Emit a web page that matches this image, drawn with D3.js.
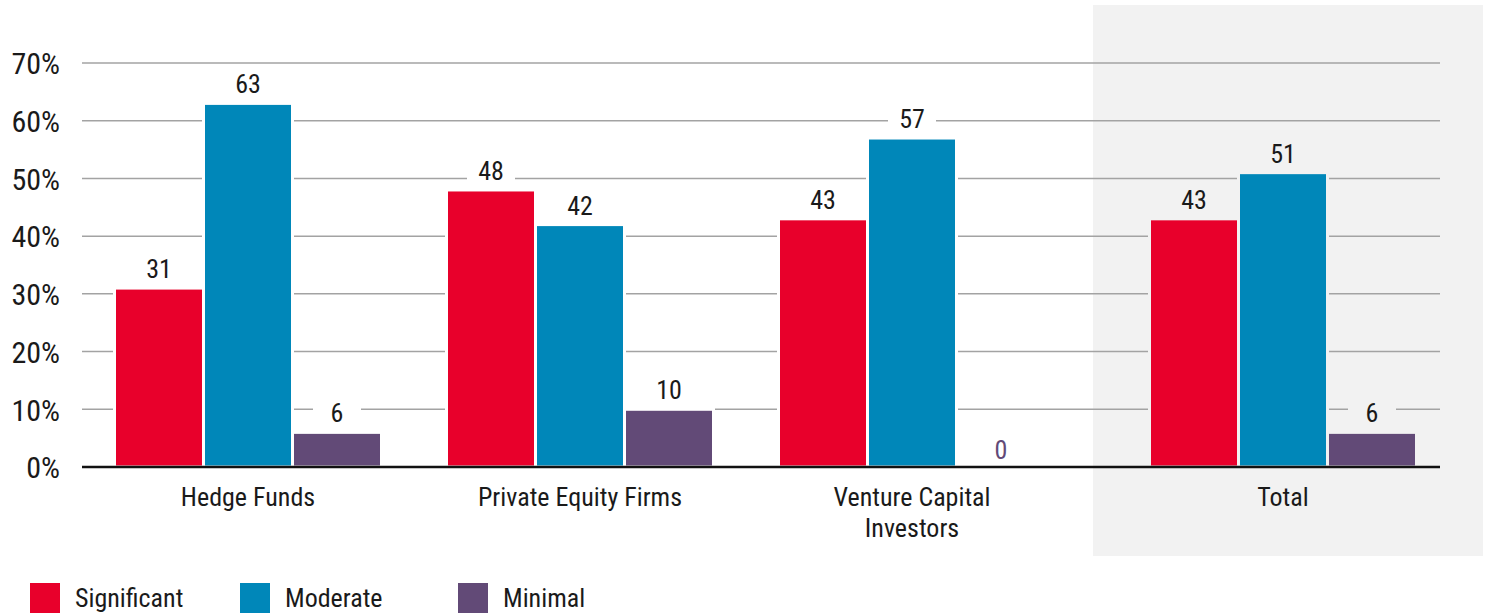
<!DOCTYPE html>
<html>
<head>
<meta charset="utf-8">
<script src="https://cdn.jsdelivr.net/npm/d3@7"></script>
<style>
  body { margin: 0; background: #fff; }
  svg text { font-family: "Roboto Condensed", "Roboto", sans-serif; font-stretch: 80%; fill: #1a1a1a; }
</style>
</head>
<body>
<svg id="chart" width="1488" height="613"></svg>
<script>
// data
var categories = ["Hedge Funds", "Private Equity Firms", "Venture Capital Investors"];
var totalLabel = "Total";
var categoryLines = [["Hedge Funds"], ["Private Equity Firms"], ["Venture Capital", "Investors"], ["Total"]];
var seriesNames = ["Significant", "Moderate", "Minimal"];
var significant = [31, 48, 43, 43];
var moderate = [63, 42, 57, 51];
var minimal = [6, 10, 0, 6];
var yTicks = [0, 10, 20, 30, 40, 50, 60, 70];
var colors = ["#e8002b", "#0087b9", "#624a77"];

var svg = d3.select("#chart");
var plot = { left: 82, right: 1440, top: 63, bottom: 467 };
var panel = { x0: 1093, x1: 1483, y0: 5, y1: 556 };
var panelFill = "#f2f2f2";

// three segment groups share one band scale, the total sits centred in its own panel
var x = d3.scaleBand().domain(categories).range([82, 1078]);
var centers = categories.map(function(c){ return x(c) + x.bandwidth() / 2; });
centers.push((panel.x0 + panel.x1) / 2 - 5);
var allCats = categories.concat([totalLabel]);

var groupW = 267;
var xs = d3.scaleBand().domain(seriesNames).range([0, groupW]);
var y = d3.scaleLinear().domain([0, 70]).range([plot.bottom, plot.top]);

svg.append("rect")
  .attr("x", panel.x0).attr("y", panel.y0)
  .attr("width", panel.x1 - panel.x0).attr("height", panel.y1 - panel.y0)
  .attr("fill", panelFill);

// gridlines
svg.append("g")
  .selectAll("line")
  .data(yTicks.filter(function(d){ return d > 0; }))
  .enter().append("line")
  .attr("x1", plot.left).attr("x2", plot.right)
  .attr("y1", function(d){ return y(d); }).attr("y2", function(d){ return y(d); })
  .attr("stroke", "#a3a3a3").attr("stroke-width", 1.5);

// y axis labels
var yAxis = d3.axisLeft(y).tickValues(yTicks).tickSize(0).tickPadding(0)
  .tickFormat(function(d){ return d + "%"; });
svg.append("g")
  .attr("transform", "translate(60,0)")
  .call(yAxis)
  .call(function(g){ g.select(".domain").remove(); })
  .selectAll("text")
  .attr("font-size", 30)
  .attr("font-family", null)
  .attr("dy", "0.36em");

// bars
var rows = allCats.map(function(c, i){
  return { cat: c, cx: centers[i], vals: [significant[i], moderate[i], minimal[i]] };
});

var groups = svg.append("g").selectAll("g")
  .data(rows)
  .enter().append("g")
  .attr("transform", function(d){ return "translate(" + (d.cx - groupW / 2) + ",0)"; });

groups.each(function(d){
  var g = d3.select(this);
  var bg = d.cat === totalLabel ? panelFill : "#fff";
  d.vals.forEach(function(v, j){
    if (v > 0) {
      g.append("rect")
        .attr("x", xs(seriesNames[j]))
        .attr("y", y(v))
        .attr("width", xs.bandwidth())
        .attr("height", y(0) - y(v))
        .attr("fill", colors[j])
        .attr("stroke", bg).attr("stroke-width", 3);
    }
  });
  d.vals.forEach(function(v, j){
    var cx = xs(seriesNames[j]) + xs.bandwidth() / 2;
    var lab = g.append("g");
    var t = lab.append("text")
      .attr("x", cx)
      .attr("y", v > 0 ? y(v) - 10 : y(0) - 8)
      .attr("text-anchor", "middle")
      .attr("font-size", 26)
      .text(v);
    if (v === 0) t.style("fill", colors[2]);
    var bb = t.node().getBBox();
    if (v > 0) {
      var w = Math.max(bb.width + 18, 48);
      lab.insert("rect", "text")
        .attr("x", cx - w / 2)
        .attr("y", bb.y + 2)
        .attr("width", w)
        .attr("height", bb.height - 2)
        .attr("fill", bg);
    }
  });
});

// baseline
svg.append("line")
  .attr("x1", plot.left).attr("x2", plot.right)
  .attr("y1", y(0)).attr("y2", y(0))
  .attr("stroke", "#111").attr("stroke-width", 2.5);

// category labels
svg.append("g").selectAll("text")
  .data(rows)
  .enter().append("text")
  .attr("y", 506)
  .attr("text-anchor", "middle")
  .attr("font-size", 26)
  .each(function(d, i){
    var t = d3.select(this);
    categoryLines[i].forEach(function(line, k){
      t.append("tspan")
        .attr("x", d.cx)
        .attr("dy", k === 0 ? 0 : 31)
        .text(line);
    });
  });

// legend
var legendX = [30, 240, 458];
var legend = svg.append("g").selectAll("g")
  .data(seriesNames)
  .enter().append("g")
  .attr("transform", function(d, i){ return "translate(" + legendX[i] + ",583)"; });
legend.append("rect")
  .attr("width", 30).attr("height", 30)
  .attr("fill", function(d, i){ return colors[i]; });
legend.append("text")
  .attr("x", 45).attr("y", 24)
  .attr("font-size", 26)
  .text(function(d){ return d; });
</script>
</body>
</html>
